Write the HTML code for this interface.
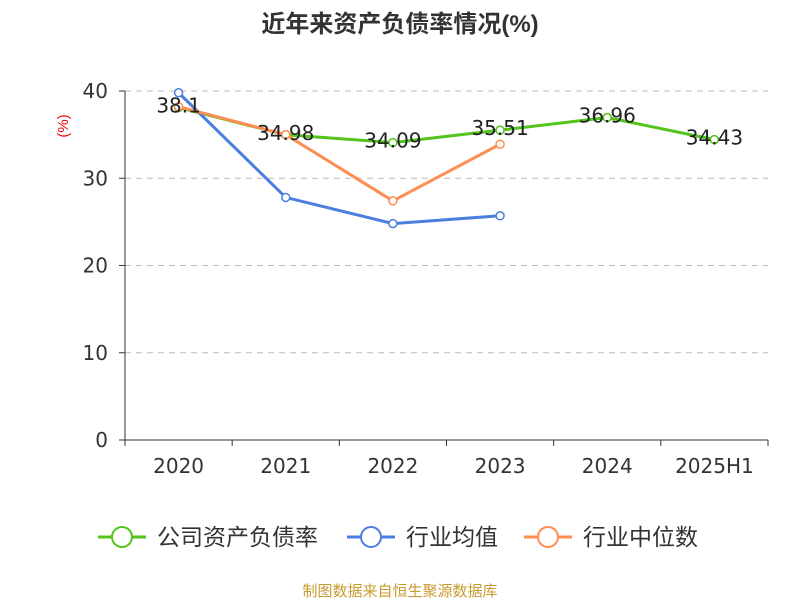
<!DOCTYPE html>
<html><head><meta charset="utf-8"><style>
body{margin:0;background:#fff;}
svg text{font-family:"DejaVu Sans","Noto Sans CJK SC",sans-serif;}
svg text.cjk{font-family:"Liberation Sans","Noto Sans CJK SC",sans-serif;}
</style></head><body>
<svg id="c" width="800" height="600" xmlns="http://www.w3.org/2000/svg">
<text class="cjk" x="400" y="32" text-anchor="middle" font-size="24" font-weight="bold" fill="#333">近年来资产负债率情况(%)</text>
<text class="cjk" transform="translate(68,126) rotate(-90)" text-anchor="middle" font-size="15" fill="#e00">(%)</text>
<g id="grid"></g><g id="axes"></g><g id="series"></g><g id="labels"></g>
<g>
<g><line x1="98" y1="537" x2="146" y2="537" stroke="#52c41a" stroke-width="3"/><circle cx="122" cy="537" r="10" fill="#fff" stroke="#52c41a" stroke-width="2"/><text class="cjk" x="157" y="545" font-size="23" fill="#333">公司资产负债率</text></g>
<g><line x1="347" y1="537" x2="395" y2="537" stroke="#4a7fe0" stroke-width="3"/><circle cx="371" cy="537" r="10" fill="#fff" stroke="#4a7fe0" stroke-width="2"/><text class="cjk" x="406" y="545" font-size="23" fill="#333">行业均值</text></g>
<g><line x1="524" y1="537" x2="572" y2="537" stroke="#ff8c50" stroke-width="3"/><circle cx="548" cy="537" r="10" fill="#fff" stroke="#ff8c50" stroke-width="2"/><text class="cjk" x="583" y="545" font-size="23" fill="#333">行业中位数</text></g>
</g>
<text class="cjk" x="400" y="596" text-anchor="middle" font-size="15" fill="#c89b2e">制图数据来自恒生聚源数据库</text>
</svg>
<script>
const categories=["2020","2021","2022","2023","2024","2025H1"];
const companyValues=[38.1,34.98,34.09,35.51,36.96,34.43];
const industryAvg=[39.8,27.8,24.8,25.7];
const industryMedian=[38.2,35.0,27.4,33.9];
const yTicks=[0,10,20,30,40];
const NS="http://www.w3.org/2000/svg";
const x0=125,x1=768,y0=440,y1=91,yMax=40;
const band=(x1-x0)/categories.length;
const X=i=>x0+band*(i+0.5);
const Y=v=>y0-(v/yMax)*(y0-y1);
function mk(t,a,p){const e=document.createElementNS(NS,t);for(const k in a)e.setAttribute(k,a[k]);p.appendChild(e);return e;}
const grid=document.getElementById('grid'),axes=document.getElementById('axes'),ser=document.getElementById('series'),lab=document.getElementById('labels');
yTicks.forEach(v=>{
 if(v>0){const g=mk('line',{x1:x0,x2:x1,y1:Y(v),y2:Y(v),stroke:'#bbb','stroke-dasharray':'6,5'},grid);
 
 }
 const t=mk('text',{x:108,y:Y(v)+7,'text-anchor':'end','font-size':20,fill:'#333'},axes);t.textContent=v;
 
 
 mk('line',{x1:x0-6,x2:x0,y1:Y(v),y2:Y(v),stroke:'#333'},axes);
});
mk('line',{x1:x0,x2:x0,y1:y1,y2:y0,stroke:'#333'},axes);
mk('line',{x1:x0,x2:x1,y1:y0,y2:y0,stroke:'#333'},axes);
for(let i=0;i<=categories.length;i++)mk('line',{x1:x0+band*i,x2:x0+band*i,y1:y0,y2:y0+6,stroke:'#333'},axes);
categories.forEach((c,i)=>{const t=mk('text',{x:X(i),y:473,'text-anchor':'middle','font-size':20,fill:'#333'},axes);t.textContent=c;
 
 });
function series(vals,color,name){
 const p=mk('polyline',{points:vals.map((v,i)=>X(i)+','+Y(v)).join(' '),fill:'none',stroke:color,'stroke-width':3},ser);
 
 
 vals.forEach((v,i)=>{const c=mk('circle',{cx:X(i),cy:Y(v),r:4,fill:'#fff',stroke:color,'stroke-width':1.5},ser);
 
 });
}
series(companyValues,'#52c41a','company');
series(industryAvg,'#4a7fe0','industry-average');
series(industryMedian,'#ff8c50','industry-median');
companyValues.forEach((v,i)=>{const t=mk('text',{x:X(i),y:Y(v)+5,'text-anchor':'middle','font-size':20,fill:'#222'},lab);t.textContent=v;
 
 });
</script>
</body></html>
